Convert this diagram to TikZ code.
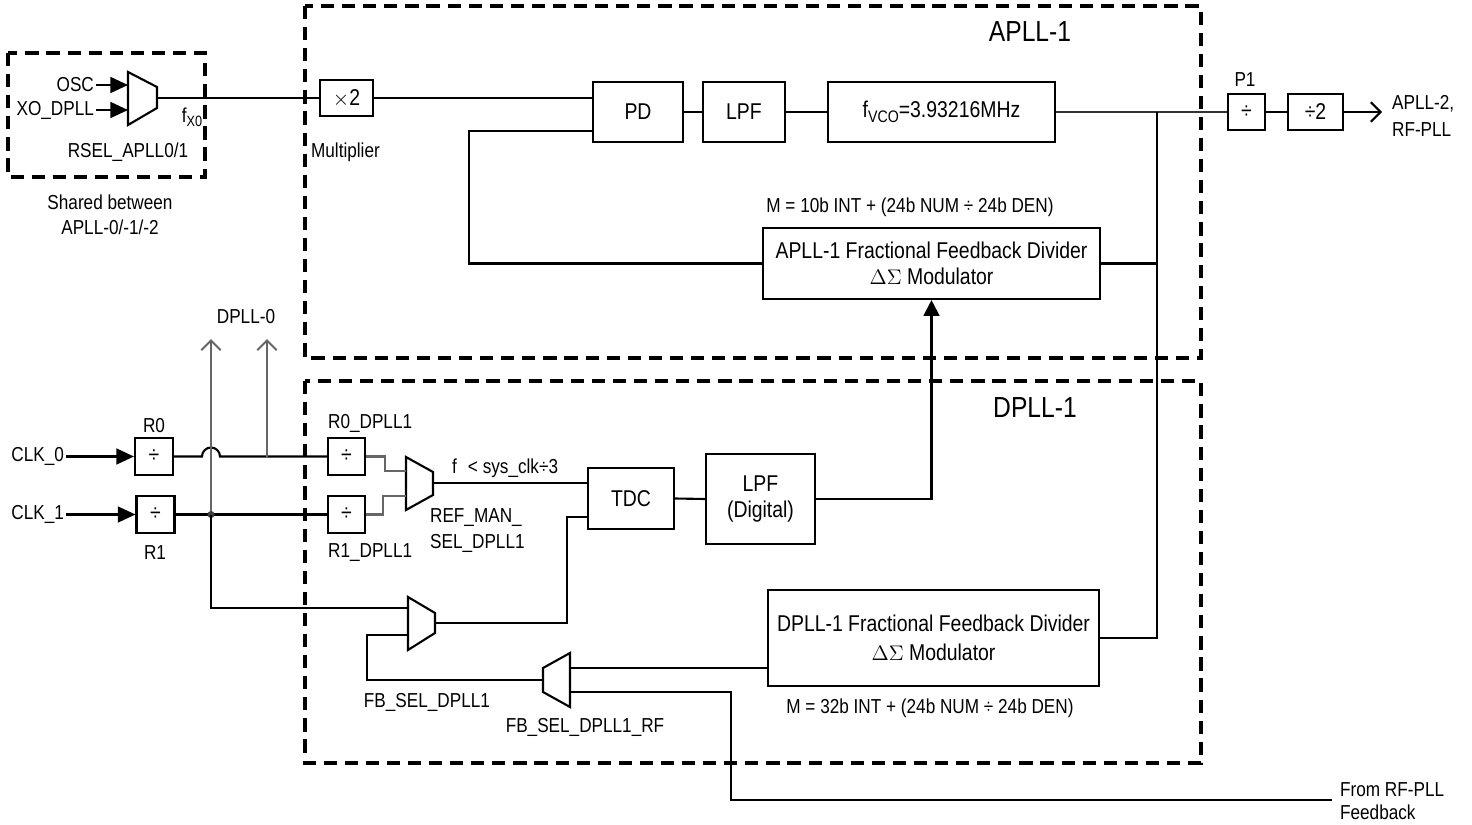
\documentclass[tikz,border=0pt]{standalone}
\usepackage{fontspec}
\setmainfont{Liberation Sans}[FakeStretch=0.85]
\usetikzlibrary{arrows.meta,positioning}

\tikzset{
    every node/.style={font=\fontsize{11.5}{14}\selectfont, inner sep=1pt},
    blk/.style={draw, line width=1.2pt, align=center, inner sep=0pt, font=\fontsize{13}{15}\selectfont},
    ttl/.style={font=\fontsize{16.5}{20}\selectfont},
    wire/.style={line width=1.2pt},
    gwire/.style={line width=1.2pt, draw=black!60},
    mux/.style={line width=1.2pt, line join=miter},
    region/.style={line width=1.8pt, dash pattern=on 7.5pt off 4.5pt},
    inarr/.style={wire, -{Triangle[length=10pt,width=9pt]}},
    outarr/.style={-{Straight Barb[length=5.5pt,width=11pt]}},
}

\begin{document}
\begin{tikzpicture}[x=0.02cm,y=-0.02cm]
    \useasboundingbox (0,0) rectangle (1472,825);

    % Draw the dashed regions.
    \draw[region] (8,53) rectangle (205,177);
    \draw[region] (305,6) rectangle (1201,358);
    \draw[region] (305,381) rectangle (1201,763);
    \node[ttl] (aplltitle) at (1030,32) {APLL-1};
    \node[ttl] (dplltitle) at (1035,408) {DPLL-1};

    % Draw the shared reference select.
    \draw[mux] (128,72) -- (157,87) -- (157,108) -- (128,125) -- cycle;
    \coordinate (rsel-in1) at (128,85);
    \coordinate (rsel-in2) at (128,110);
    \coordinate (rsel-out) at (157,98);
    \node[anchor=east] (osc) at (96,85) {OSC};
    \node[anchor=east] (xo) at (96,110) {XO\_DPLL};
    \draw[inarr] (osc.east) -- (rsel-in1);
    \draw[inarr] (xo.east) -- (rsel-in2);
    \node (fx0) at (192,117) {f\raisebox{-0.4ex}{\fontsize{8.5}{9}\selectfont X0}};
    \node (rsel) at (128,152) {RSEL\_APLL0/1};
    \node[align=center, font=\fontsize{11.5}{14.2}\selectfont] (shared) at (110,215) {Shared between\\APLL-0/-1/-2};

    % Draw APLL-1 forward path.
    \node[blk, minimum width=1.06cm, minimum height=0.72cm] (x2) at (346.5,98) {$\times$2};
    \node[anchor=west] (mult) at (309,152) {Multiplier};
    \node[blk, minimum width=1.8cm, minimum height=1.2cm] (pd) at (638,112) {PD};
    \node[blk, minimum width=1.64cm, minimum height=1.2cm] (lpf) at (744,112) {LPF};
    \node[blk, minimum width=4.54cm, minimum height=1.2cm] (vco) at (941.5,112)
        {f\raisebox{-0.4ex}{\fontsize{9.5}{10}\selectfont VCO}=3.93216MHz};
    \node[blk, minimum width=0.74cm, minimum height=0.72cm] (p1) at (1246.5,112) {÷};
    \node (p1lbl) at (1245,80) {P1};
    \node[blk, minimum width=1.1cm, minimum height=0.72cm] (div2) at (1315.5,112) {÷2};
    \coordinate (apllout) at (1382,112);
    \node[anchor=west, align=left, font=\fontsize{11.5}{15.4}\selectfont] (apll2) at (1390,116) {APLL-2,\\RF-PLL};

    \coordinate (pdfb) at (593,131);
    \coordinate (fbc) at (469,131);
    \coordinate (tap) at (1157,112);

    \draw[wire] (rsel-out) -- (x2.west);
    \draw[wire] (x2.east) -- (x2.east -| pd.west);
    \draw[wire] (pd.east) -- (lpf.west);
    \draw[wire] (lpf.east) -- (vco.west);
    \draw[wire, draw=black!80] (vco.east) -- (p1.west);
    \draw[wire] (p1.east) -- (div2.west);
    \draw[wire, outarr] (div2.east) -- (apllout);

    % Draw APLL-1 feedback divider.
    \node[blk, minimum width=6.74cm, minimum height=1.42cm] (afb) at (931.5,263.5)
        {APLL-1 Fractional Feedback Divider\\$\Delta\Sigma$ Modulator};
    \node (am) at (910,207) {M = 10b INT + (24b NUM ÷ 24b DEN)};
    \draw[wire] (afb.west) -| (fbc) -- (pdfb);
    \draw[wire] (afb.east) -- (afb.east -| tap);

    % Draw reference dividers.
    \node[blk, minimum width=0.76cm, minimum height=0.74cm] (r0) at (154,456.5) {÷};
    \node[blk, minimum width=0.76cm, minimum height=0.74cm] (r1) at (155.5,514.5) {÷};
    \node (r0lbl) at (154,426) {R0};
    \node (r1lbl) at (155,553) {R1};
    \node[anchor=east] (clk0) at (66,456.5) {CLK\_0};
    \node[anchor=east] (clk1) at (66,514.5) {CLK\_1};
    \draw[inarr] (clk0.east) -- (r0.west);
    \draw[inarr] (clk1.east) -- (r1.west);

    \foreach \i/\y in {0/456.5,1/514.5}
        \node[blk, minimum width=0.74cm, minimum height=0.74cm] (rd\i) at (346.5,\y) {÷};
    \node[anchor=west] (rd0lbl) at (326,423) {R0\_DPLL1};
    \node[anchor=west] (rd1lbl) at (326,553) {R1\_DPLL1};

    % Draw DPLL-0 taps.
    \coordinate (dot) at (211,514.5);
    \coordinate (d0a) at (211,339);
    \coordinate (d0b) at (267,339);
    \coordinate (d0tap) at (267,456.5);
    \node (dpll0) at (246,317) {DPLL-0};
    \draw[wire] (r0.east) -- (202,456.5) arc[start angle=180, end angle=0, radius=0.18cm] -- (rd0.west);
    \draw[wire] (r1.east) -- (rd1.west);
    \draw[gwire, outarr] (dot) -- (d0a);
    \draw[gwire, outarr] (d0tap) -- (d0b);
    \fill[black!75] (dot) circle [radius=2pt];

    % Draw reference select.
    \draw[mux] (406,457) -- (433,472) -- (433,495) -- (406,510) -- cycle;
    \coordinate (refmux-in1) at (406,471);
    \coordinate (refmux-in2) at (406,496);
    \coordinate (refmux-out) at (433,483);
    \draw[gwire] (rd0.east) -- ++(19,0) |- (refmux-in1);
    \draw[gwire] (rd1.east) -- ++(17,0) |- (refmux-in2);
    \node[anchor=west, align=left, font=\fontsize{11.5}{14.8}\selectfont] (refsel) at (428,531) {REF\_MAN\_\\SEL\_DPLL1};

    % Draw DPLL-1 loop.
    \node[blk, minimum width=1.72cm, minimum height=1.22cm] (tdc) at (631,498.5) {TDC};
    \node[blk, minimum width=2.18cm, minimum height=1.8cm] (lpfd) at (760.5,499) {LPF\\(Digital)};
    \coordinate (tdcin2) at (588,517);
    \draw[wire] (refmux-out) -- (refmux-out -| tdc.west);
    \node[anchor=west] (fref) at (450,468) {f\hspace{0.55em}< sys\_clk÷3};
    \draw[wire] (tdc.east) -- (lpfd.west);
    \draw[wire, -{Triangle[length=9pt,width=9pt]}] (lpfd.east) -| (afb.south);

    \node[blk, minimum width=6.62cm, minimum height=1.92cm, font=\fontsize{13}{16.5}\selectfont] (dfb) at (933.5,638)
        {DPLL-1 Fractional Feedback Divider\\$\Delta\Sigma$ Modulator};
    \node (dm) at (930,708) {M = 32b INT + (24b NUM ÷ 24b DEN)};
    \draw[wire] (tap) |- (dfb.east);

    % Draw feedback selects.
    \draw[mux] (408,597) -- (435,613) -- (435,633) -- (408,650) -- cycle;
    \coordinate (fbmux-in1) at (408,608);
    \coordinate (fbmux-in2) at (408,635);
    \coordinate (fbmux-out) at (435,623);
    \node (fbsel) at (427,702) {FB\_SEL\_DPLL1};

    \draw[mux] (543,668) -- (570,653) -- (570,707) -- (543,692) -- cycle;
    \coordinate (rfmux-out) at (543,680);
    \coordinate (rfmux-in1) at (570,668);
    \coordinate (rfmux-in2) at (570,692);
    \node (rfsel) at (585,727) {FB\_SEL\_DPLL1\_RF};

    \coordinate (rffb) at (1332,800);
    \node[anchor=west, align=left, font=\fontsize{11.5}{13}\selectfont] (rflbl) at (1338,801) {From RF-PLL\\Feedback};

    \draw[wire] (dot) |- (fbmux-in1);
    \draw[wire] (fbmux-out) -- ++(132,0) |- (tdcin2);
    \draw[wire] (fbmux-in2) -- ++(-41,0) |- (rfmux-out);
    \draw[wire] (dfb.west |- rfmux-in1) -- (rfmux-in1);
    \draw[wire] (rfmux-in2) -- ++(161,0) |- (rffb);

\end{tikzpicture}
\end{document}
